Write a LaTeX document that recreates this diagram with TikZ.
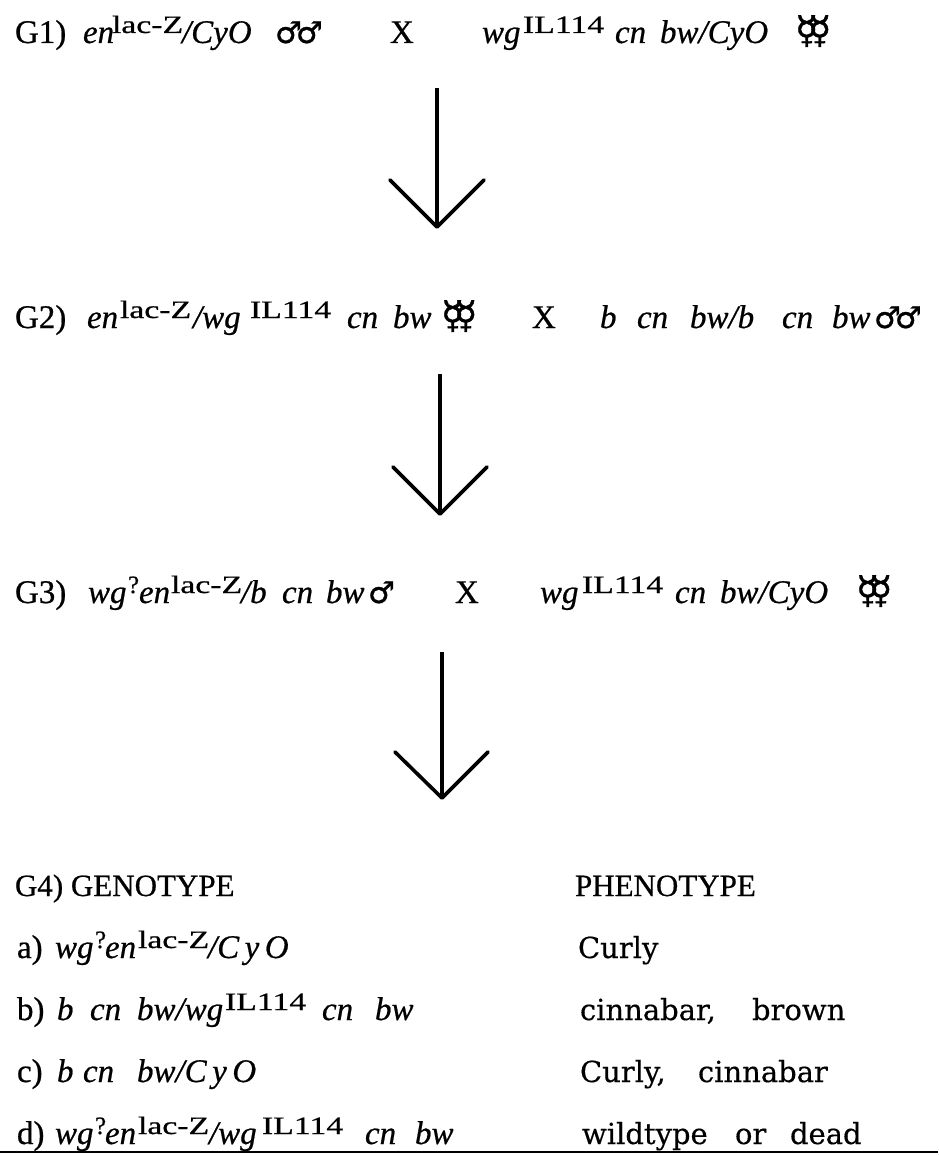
\documentclass[tikz,border=0pt]{standalone}
\usepackage{fontspec}
\usepackage{graphicx}
\setmainfont{Liberation Serif}[FakeBold=0.6]
\newfontfamily\phenofont{DejaVu Serif}[FakeBold=0.4]
\newfontfamily\symfont{DejaVu Sans}[FakeBold=0.8]
\tikzset{
 base/.style={anchor=base west, inner sep=0pt, outer sep=0pt},
 gi/.style={base, font=\fontsize{33}{40}\selectfont\itshape},
 gr/.style={base, font=\fontsize{33}{37}\selectfont},
 sp/.style={base, font=\fontsize{25}{30}\selectfont},
 hd/.style={base, font=\fontsize{31}{36}\selectfont},
 ph/.style={base, font=\fontsize{29}{35}\selectfont\phenofont},
 sy/.style={base, font=\fontsize{30}{34}\selectfont\symfont},
 hs/.style={base, font=\fontsize{38}{44}\selectfont\symfont},
 shaft/.style={line width=3.2pt},
 barb/.style={line width=3.6pt, line cap=round, line join=round},
}
\newcommand\wide[1]{\scalebox{1.35}[1]{#1}}
\newcommand\males{♂\kern-0.2em♂}
\newcommand\herms{☿\kern-0.27em☿}
\begin{document}
\begin{tikzpicture}[x=1pt,y=-1pt]
\fill[white] (0,0) rectangle (938,1156);
\useasboundingbox (0,0) rectangle (938,1156);
% G1
\node[gr] (g1lab) at (15,43) {G1)};
\node[gi] (g1a) at (83,43) {en};
\node[sp] (g1b) at (112,33) {\wide{lac-Z}};
\node[gi] (g1c) at (182,43) {/CyO};
\node[sy] (g1d) at (275,43) {\males};
\node[gr] (g1x) at (390,43) {X};
\node[gi] (g1e) at (482,43) {wg};
\node[sp] (g1f) at (523,33) {\wide{IL114}};
\node[gi] (g1g) at (615,43) {cn};
\node[gi] (g1h) at (660,43) {bw/CyO};
\node[hs] (g1i) at (795,43) {\herms};
% G2
\node[gr] (g2lab) at (15,328) {G2)};
\node[gi] (g2a) at (87,328) {en};
\node[sp] (g2b) at (120,318) {\wide{lac-Z}};
\node[gi] (g2c) at (193,328) {/wg};
\node[sp] (g2d) at (250,318) {\wide{IL114}};
\node[gi] (g2e) at (347,328) {cn};
\node[gi] (g2f) at (393,328) {bw};
\node[hs] (g2g) at (441,328) {\herms};
\node[gr] (g2x) at (532,328) {X};
\node[gi] (g2h) at (600,328) {b};
\node[gi] (g2i) at (637,328) {cn};
\node[gi] (g2j) at (690,328) {bw/b};
\node[gi] (g2k) at (782,328) {cn};
\node[gi] (g2l) at (832,328) {bw};
\node[sy] (g2m) at (874,328) {\males};
% G3
\node[gr] (g3lab) at (15,603) {G3)};
\node[gi] (g3a) at (88,603) {wg};
\node[sp] (g3b) at (128,593) {?};
\node[gi] (g3c) at (139,603) {en};
\node[sp] (g3d) at (171,593) {\wide{lac-Z}};
\node[gi] (g3e) at (241,603) {/b};
\node[gi] (g3f) at (282,603) {cn};
\node[gi] (g3g) at (326,603) {bw};
\node[sy] (g3h) at (368,603) {♂};
\node[gr] (g3x) at (455,603) {X};
\node[gi] (g3i) at (540,603) {wg};
\node[sp] (g3j) at (582,593) {\wide{IL114}};
\node[gi] (g3k) at (675,603) {cn};
\node[gi] (g3l) at (720,603) {bw/CyO};
\node[hs] (g3m) at (856,603) {\herms};
% G4
\node[hd] (g4lab) at (15,896) {G4) GENOTYPE};
\node[hd] (g4ph) at (575,896) {PHENOTYPE};
% a
\node[gr] (ra) at (17,958) {a)};
\node[gi] (ra1) at (55,958) {wg};
\node[sp] (ra2) at (95,948) {?};
\node[gi] (ra3) at (105,958) {en};
\node[sp] (ra4) at (138,948) {\wide{lac-Z}};
\node[gi] (ra5) at (208,958) {/C\,y\,O};
\node[ph] (pa1) at (578,958) {Curly};
% b
\node[gr] (rb) at (17,1020) {b)};
\node[gi] (rb1) at (57,1020) {b};
\node[gi] (rb2) at (90,1020) {cn};
\node[gi] (rb3) at (137,1020) {bw/wg};
\node[sp] (rb4) at (225,1010) {\wide{IL114}};
\node[gi] (rb5) at (322,1020) {cn};
\node[gi] (rb6) at (375,1020) {bw};
\node[ph] (pb1) at (580,1020) {cinnabar,};
\node[ph] (pb2) at (752,1020) {brown};
% c
\node[gr] (rc) at (17,1082) {c)};
\node[gi] (rc1) at (57,1082) {b};
\node[gi] (rc2) at (83,1082) {cn};
\node[gi] (rc3) at (137,1082) {bw/C\,y\,O};
\node[ph] (pc1) at (580,1082) {Curly,};
\node[ph] (pc2) at (698,1082) {cinnabar};
% d
\node[gr] (rd) at (17,1144) {d)};
\node[gi] (rd1) at (55,1144) {wg};
\node[sp] (rd2) at (95,1134) {?};
\node[gi] (rd3) at (105,1144) {en};
\node[sp] (rd4) at (138,1134) {\wide{lac-Z}};
\node[gi] (rd5) at (209,1144) {/wg};
\node[sp] (rd6) at (262,1134) {\wide{IL114}};
\node[gi] (rd7) at (365,1144) {cn};
\node[gi] (rd8) at (415,1144) {bw};
\node[ph] (pd1) at (582,1144) {wildtype};
\node[ph] (pd2) at (735,1144) {or};
\node[ph] (pd3) at (790,1144) {dead};
% arrows
\coordinate (s1) at (437,88);  \coordinate (t1) at (437,227);
\coordinate (l1) at (390,180); \coordinate (r1) at (484,180);
\coordinate (s2) at (440,374); \coordinate (t2) at (440,514);
\coordinate (l2) at (393,467); \coordinate (r2) at (487,467);
\coordinate (s3) at (442,652); \coordinate (t3) at (442,798);
\coordinate (l3) at (395,752); \coordinate (r3) at (488,752);
\draw[shaft] (s1) -- (t1);
\draw[barb] (l1) -- (t1) -- (r1);
\draw[shaft] (s2) -- (t2);
\draw[barb] (l2) -- (t2) -- (r2);
\draw[shaft] (s3) -- (t3);
\draw[barb] (l3) -- (t3) -- (r3);
% bottom rule
\coordinate (rl) at (0,1152); \coordinate (rr) at (938,1152);
\draw[line width=2pt] (rl) -- (rr);
\end{tikzpicture}
\end{document}
